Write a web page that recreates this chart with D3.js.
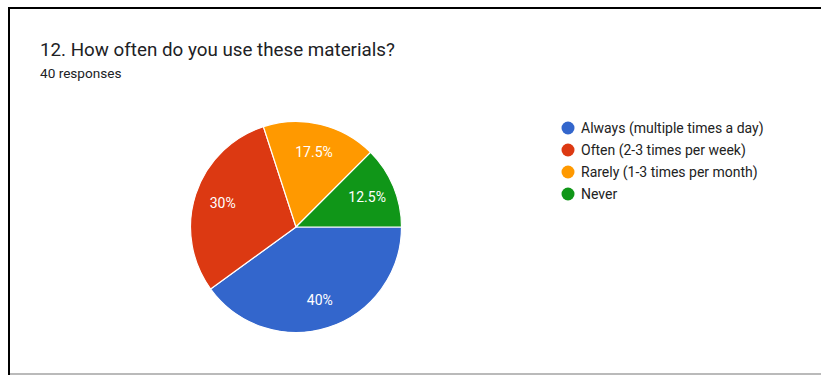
<!DOCTYPE html>
<html>
<head>
<meta charset="utf-8">
<script src="https://cdn.jsdelivr.net/npm/d3@7/dist/d3.min.js"></script>
<style>
  html, body { margin: 0; padding: 0; background: #fff; }
  svg { display: block; font-family: Roboto, Arial, sans-serif; }
</style>
</head>
<body>
<svg id="chart" width="821" height="375"></svg>
<script>
// Survey answers for question 12
const categories = [
  "Always (multiple times a day)",
  "Often (2-3 times per week)",
  "Rarely (1-3 times per month)",
  "Never"
];
const counts = [16, 12, 7, 5];
const colors = ["#3366cc", "#dc3912", "#ff9900", "#109618"];
const title = "12. How often do you use these materials?";
const subtitle = "40 responses";

const svg = d3.select("#chart");
const W = 821, H = 375;

// Card frame: heavy black edges on the top and left, light grey along the bottom
svg.append("rect").attr("x", 0).attr("y", 0).attr("width", W).attr("height", H).attr("fill", "#fff");
svg.append("line").attr("x1", 8).attr("x2", W).attr("y1", 8).attr("y2", 8)
  .attr("stroke", "#000").attr("stroke-width", 2);
svg.append("line").attr("x1", 9).attr("x2", 9).attr("y1", 7).attr("y2", H)
  .attr("stroke", "#000").attr("stroke-width", 2);
svg.append("line").attr("x1", 10).attr("x2", W).attr("y1", 374).attr("y2", 374)
  .attr("stroke", "#777").attr("stroke-width", 1.2);

// Heading
svg.append("text").attr("x", 40).attr("y", 56)
  .attr("font-size", 18.8).attr("fill", "#202124").text(title);
svg.append("text").attr("x", 40).attr("y", 78)
  .attr("font-size", 13.6).attr("fill", "#202124").text(subtitle);

// Pie
const cx = 296, cy = 227, r = 105.5;
const total = d3.sum(counts);
const data = categories.map((c, i) => ({ label: c, value: counts[i], color: colors[i] }));

const pie = d3.pie().value(d => d.value).sort(null)
  .startAngle(Math.PI / 2).endAngle(Math.PI / 2 + 2 * Math.PI);
const arc = d3.arc().innerRadius(0).outerRadius(r);
const labelArc = d3.arc().innerRadius(r * 0.73).outerRadius(r * 0.73);

const g = svg.append("g").attr("transform", `translate(${cx},${cy})`);
const arcs = pie(data);
g.selectAll("path").data(arcs).join("path")
  .attr("d", arc)
  .attr("fill", d => d.data.color)
  .attr("stroke", "#fff").attr("stroke-width", 1.2);

const fmt = v => {
  const p = v / total * 100;
  return (Math.round(p * 10) / 10) + "%";
};
g.selectAll("text.pct").data(arcs).join("text")
  .attr("class", "pct")
  .attr("transform", d => `translate(${labelArc.centroid(d)})`)
  .attr("text-anchor", "middle").attr("dy", "0.35em")
  .attr("font-size", 14).attr("fill", "#fff")
  .text(d => fmt(d.data.value));

// Legend
const legend = svg.append("g").attr("transform", "translate(568,128)");
const rows = legend.selectAll("g").data(data).join("g")
  .attr("transform", (d, i) => `translate(0,${i * 22})`);
rows.append("circle").attr("r", 6.5).attr("fill", d => d.color);
rows.append("text").attr("x", 13).attr("dy", "0.35em")
  .attr("font-size", 14).attr("fill", "#222").text(d => d.label);
</script>
</body>
</html>
